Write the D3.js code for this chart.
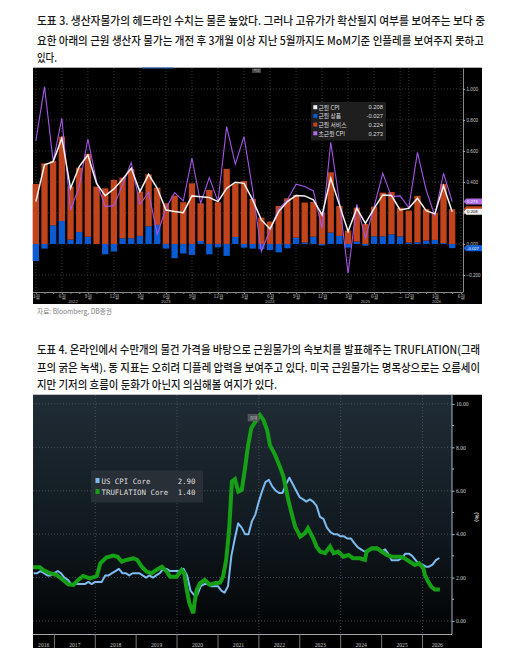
<!DOCTYPE html>
<html><head><meta charset="utf-8">
<script src="https://cdn.jsdelivr.net/npm/d3@7"></script>
<style>body{margin:0;background:#fff}svg{display:block}</style>
</head><body>
<svg id="c" width="512" height="648"></svg>
<script>
// ---------------- DATA: chart 1 (core CPI MoM contributions) ----------------
const months1 = ["2022-03","2022-04","2022-05","2022-06","2022-07","2022-08","2022-09","2022-10","2022-11","2022-12",
"2023-01","2023-02","2023-03","2023-04","2023-05","2023-06","2023-07","2023-08","2023-09","2023-10","2023-11","2023-12",
"2024-01","2024-02","2024-03","2024-04","2024-05","2024-06","2024-07","2024-08","2024-09","2024-10","2024-11","2024-12",
"2025-01","2025-02","2025-03","2025-04","2025-05","2025-06","2025-07","2025-08","2025-09","2025-12",
"2026-01","2026-02","2026-03","2026-04","2026-05"];
const coreGoods = [-0.110,-0.030,0.120,0.148,0.028,0.077,0.047,0.000,-0.067,-0.049,
0.037,0.037,0.052,0.114,0.123,-0.030,-0.092,-0.062,-0.071,0.019,-0.067,-0.022,
-0.077,0.045,-0.024,-0.030,-0.034,-0.039,-0.054,-0.028,0.041,0.009,0.047,-0.009,
0.073,0.052,-0.024,0.015,-0.011,0.049,0.049,0.062,0.049,0.009,
0.011,0.022,0.026,0.006,-0.027];
const coreServices = [0.387,0.520,0.415,0.544,0.342,0.415,0.534,0.370,0.359,0.413,
0.391,0.447,0.286,0.335,0.240,0.262,0.312,0.269,0.391,0.243,0.348,0.269,
0.484,0.346,0.406,0.290,0.170,0.144,0.245,0.295,0.275,0.258,0.224,0.202,
0.389,0.193,0.086,0.219,0.129,0.192,0.282,0.273,0.185,0.206,
0.299,0.204,0.176,0.381,0.224];
const coreCPI = [0.273,0.510,0.531,0.682,0.359,0.499,0.574,0.391,0.312,0.355,
0.417,0.488,0.338,0.449,0.359,0.219,0.209,0.202,0.310,0.305,0.299,0.273,
0.359,0.398,0.391,0.284,0.155,0.097,0.209,0.273,0.312,0.310,0.284,0.187,
0.424,0.252,0.080,0.230,0.133,0.230,0.316,0.312,0.219,0.230,
0.295,0.215,0.194,0.376,0.208];
const supercoreCPI = [0.665,1.015,0.531,0.811,0.219,0.370,0.677,0.402,0.241,0.247,
0.381,0.525,0.256,0.333,0.062,0.230,0.331,0.277,0.553,0.262,0.428,0.273,
0.757,0.514,0.692,0.348,-0.049,0.090,0.226,0.284,0.385,0.370,0.342,0.101,
0.656,0.273,-0.189,0.256,0.037,0.241,0.456,0.305,0.310,0.234,
0.591,0.348,0.183,0.456,0.273];
const monthTickIdx = [0,3,6,9,12,15,18,21,24,27,30,33,36,39,42,43,46,49];
const monthTickLabels = ["3월","6월","9월","12월","3월","6월","9월","12월","3월","6월","9월","12월","3월","6월","...","12월","3월","6월"];
const yearLabels1 = ["2022","2023","2024","2025","2026"];
const yearLabelIdx1 = [4.3,15,27,38,46.2];
const y1Ticks = [1.0,0.8,0.6,0.4,0.2,0.0,-0.2];
const legend1Names = ["근원 CPI","근원 상품","근원 서비스","초근원 CPI"];

// ---------------- DATA: chart 2 (US CPI Core vs Truflation Core, YoY %) ----------------
const cpiCoreStart = "2016-06";
const cpiCore = [2.2,2.2,2.3,2.2,2.1,2.1,2.2,
2.3,2.2,2.0,1.9,1.7,1.7,1.7,1.7,1.7,1.8,1.7,1.8,
1.8,1.8,2.1,2.1,2.2,2.3,2.4,2.2,2.2,2.1,2.2,2.2,
2.2,2.1,2.0,2.1,2.0,2.1,2.2,2.4,2.4,2.3,2.3,2.3,
2.3,2.4,2.1,1.4,1.2,1.2,1.6,1.7,1.7,1.6,1.6,1.6,
1.4,1.3,1.6,3.0,3.8,4.5,4.3,4.0,4.0,4.6,4.9,5.5,
6.0,6.4,6.5,6.2,6.0,5.9,5.9,6.3,6.6,6.3,6.0,5.7,
5.6,5.5,5.6,5.5,5.3,4.8,4.7,4.3,4.1,4.0,4.0,3.9,
3.9,3.8,3.8,3.6,3.4,3.3,3.2,3.2,3.3,3.3,3.3,3.2,
3.3,3.1,2.8,2.8,2.8,2.9,3.1,3.1,3.0,2.8,2.6,2.6,
2.5,2.5,2.6,2.8,2.9];
const trufDates = ["2016-06-24","2016-08-25","2016-09-24","2016-11-21","2017-01-20","2017-03-20","2017-05-05","2017-06-20","2017-08-01","2017-09-15","2017-11-15",
"2018-01-15","2018-02-15","2018-04-10","2018-06-10","2018-07-20","2018-08-25","2018-10-05","2018-12-05",
"2019-01-10","2019-02-20","2019-04-05","2019-05-20","2019-07-01","2019-08-20","2019-10-01","2019-11-01","2019-12-28",
"2020-02-10","2020-03-05","2020-03-28","2020-04-20","2020-05-25","2020-06-05","2020-06-25","2020-07-25","2020-09-05","2020-10-20","2020-12-01",
"2021-01-20","2021-02-15","2021-03-15","2021-04-10","2021-05-05","2021-06-01","2021-07-01","2021-08-01","2021-08-28","2021-09-25","2021-10-25","2021-12-10",
"2022-01-10","2022-02-10","2022-03-15","2022-04-10","2022-05-25","2022-07-08","2022-08-08","2022-09-20","2022-10-20","2022-11-20",
"2023-01-05","2023-02-15","2023-03-15","2023-05-01","2023-05-30","2023-07-01","2023-08-15","2023-09-28","2023-10-30","2023-12-10",
"2024-01-25","2024-03-10","2024-04-20","2024-06-20","2024-08-05","2024-08-20","2024-10-05","2024-11-20",
"2025-01-01","2025-02-15","2025-04-01","2025-06-15","2025-07-25","2025-09-10","2025-10-25","2025-12-01",
"2026-01-08","2026-01-22","2026-02-20","2026-03-20","2026-04-20","2026-06-05"];
const trufCore = [2.47,2.47,2.35,2.2,2.12,1.89,1.69,1.66,1.89,2.07,1.96,
2.07,2.66,2.92,3.01,2.96,2.73,2.81,2.89,
2.81,2.5,2.27,2.2,2.35,2.5,2.27,2.04,2.04,
2.35,2.2,1.43,0.82,0.35,0.82,1.43,1.74,1.89,1.66,1.74,
1.77,2.04,2.81,4.19,6.42,6.53,5.96,6.04,6.96,8.04,8.88,9.26,
9.49,9.26,8.8,8.1,7.65,7.1,6.65,5.58,4.96,4.35,
3.89,4.04,4.27,3.81,3.43,3.2,3.12,3.43,3.12,3.2,
2.96,3.04,2.89,2.89,2.81,3.2,3.35,3.35,
3.2,3.04,2.96,2.96,2.89,2.73,2.58,2.66,
2.43,2.12,1.81,1.58,1.45,1.45];
const y2Ticks = [0,2,4,6,8,10];
const y2Minor = [1,3,5,7,9];
const years2 = [2016,2017,2018,2019,2020,2021,2022,2023,2024,2025,2026];
const legend2Names = ["US CPI Core","TRUFLATION Core"];
const legend2Values = ["2.90","1.40"];

// ---------------- TEXT ----------------
const cap1 = ["도표 3. 생산자물가의 헤드라인 수치는 물론 높았다. 그러나 고유가가 확산될지 여부를 보여주는 보다 중",
"요한 아래의 근원 생산자 물가는 개전 후 3개월 이상 지난 5월까지도 MoM기준 인플레를 보여주지 못하고",
"있다."];
const cap2 = ["도표 4. 온라인에서 수만개의 물건 가격을 바탕으로 근원물가의 속보치를 발표해주는 TRUFLATION(그래",
"프의 굵은 녹색). 동 지표는 오히려 디플레 압력을 보여주고 있다. 미국 근원물가는 명목상으로는 오름세이",
"지만 기저의 흐름이 둔화가 아닌지 의심해볼 여지가 있다."];
const source1 = "자료: Bloomberg, DB증권";

const KR = "'Noto Sans CJK KR','Noto Sans',sans-serif";
const svg = d3.select("#c");

function caption(lines, ys, lens){
  lines.forEach((t,i)=>{
    svg.append("text").attr("x",37).attr("y",ys[i]).text(t)
      .attr("font-family",KR).attr("font-size",11).attr("font-weight",500).attr("fill","#161616")
      .attr("textLength",lens[i]).attr("lengthAdjust","spacingAndGlyphs");
  });
}
caption(cap1,[24.5,44.5,61.5],[448,447,20]);
caption(cap2,[354,372,389],[443,443,240]);

// ================= CHART 1 =================
const g1 = svg.append("g");
g1.append("rect").attr("x",33).attr("y",67).attr("width",449).attr("height",237).attr("fill","#000");
g1.append("line").attr("x1",33).attr("x2",482).attr("y1",67.5).attr("y2",67.5).attr("stroke","#b0b0b0");
g1.append("line").attr("x1",142).attr("x2",173).attr("y1",68).attr("y2",68).attr("stroke","#2a6cc8").attr("stroke-width",1);

const x1 = d3.scaleBand().domain(months1).range([31.5,456.5]).paddingInner(0.27).paddingOuter(0.135);
const xi = d3.scaleLinear().domain([0,months1.length-1])
  .range([x1(months1[0])+x1.bandwidth()/2, x1(months1[months1.length-1])+x1.bandwidth()/2]);
const y1 = d3.scaleLinear().domain([-0.31,1.135]).range([292,68]);

// grid
g1.selectAll(null).data(y1Ticks).join("line")
  .attr("x1",33).attr("x2",463).attr("y1",d=>y1(d)).attr("y2",d=>y1(d))
  .attr("stroke","#4a4a4a").attr("stroke-width",0.7).attr("stroke-dasharray","1,2");
g1.selectAll(null).data(monthTickIdx).join("line")
  .attr("x1",d=>xi(d)).attr("x2",d=>xi(d)).attr("y1",68).attr("y2",292)
  .attr("stroke","#4a4a4a").attr("stroke-width",0.7).attr("stroke-dasharray","1,2");

// stacked bars
const rows = months1.map((m,i)=>({m, goods:coreGoods[i], services:coreServices[i]}));
const stacked = d3.stack().keys(["goods","services"]).offset(d3.stackOffsetDiverging)(rows);
const col1 = {goods:"#0b5bd3", services:"#c1441c"};
stacked.forEach(layer=>{
  g1.append("g").selectAll("rect").data(layer).join("rect")
    .attr("x",d=>x1(d.data.m)).attr("width",x1.bandwidth())
    .attr("y",d=>y1(Math.max(d[0],d[1]))).attr("height",d=>Math.abs(y1(d[0])-y1(d[1])))
    .attr("fill",col1[layer.key]);
});

// lines
const line1 = d3.line().x((d,i)=>xi(i)).y(d=>y1(d));
g1.append("path").attr("d",line1(supercoreCPI)).attr("fill","none").attr("stroke","#a356e6").attr("stroke-width",1.1);
g1.append("path").attr("d",line1(coreCPI)).attr("fill","none").attr("stroke","#f2f2f2").attr("stroke-width",1.5);

// x axis
const ax1 = g1.append("g").attr("transform","translate(0,292)")
  .call(d3.axisBottom(xi).tickValues(d3.range(0,50)).tickSize(2).tickSizeOuter(0).tickPadding(0.8)
    .tickFormat(d=>{const k=monthTickIdx.indexOf(d);return k>=0?monthTickLabels[k]:"";}));
ax1.select(".domain").attr("d","M33,0.5H463").attr("stroke","#8a8a8a");
ax1.selectAll(".tick line").attr("stroke","#8a8a8a");
ax1.selectAll("text").attr("fill","#c8c8c8").attr("font-size",4.8).attr("font-family",KR);
g1.selectAll(null).data(yearLabels1).join("text")
  .attr("x",(d,i)=>xi(yearLabelIdx1[i])).attr("y",303).attr("text-anchor","middle")
  .attr("font-size",4.2).attr("font-family","Liberation Sans, sans-serif").attr("fill","#b8b8b8").text(d=>d);

// right axis
const ay1 = g1.append("g").attr("transform","translate(463,0)")
  .call(d3.axisRight(y1).tickValues(y1Ticks).tickFormat(d3.format(".3f")).tickSize(2).tickSizeOuter(0).tickPadding(1.5));
ay1.select(".domain").attr("stroke","#8a8a8a");
ay1.selectAll(".tick line").attr("stroke","#aaa");
ay1.selectAll("text").attr("fill","#c8c8c8").attr("font-size",4.6).attr("font-family","Liberation Sans, sans-serif");
// tick label hidden behind the tags in the reference
ay1.selectAll(".tick").filter(d=>d===0.2).select("text").remove();

// tags (services tag is hidden behind the core-CPI tag in the reference)
const last = months1.length-1;
const tags1 = [
  {v:coreServices[last], c:"#c1441c", t:"", tc:"#fff"},
  {v:supercoreCPI[last], c:"#b06ae8", t:d3.format(".3f")(supercoreCPI[last]), tc:"#fff"},
  {v:coreCPI[last], c:"#f0f0f0", t:d3.format(".3f")(coreCPI[last]), tc:"#000"},
  {v:coreGoods[last], c:"#1060d8", t:"-0.027", tc:"#fff"}];
tags1.forEach(tg=>{
  const yy=y1(tg.v);
  g1.append("path").attr("d",`M463.5,${yy}L466.5,${yy-3}H482V${yy+3}H466.5Z`).attr("fill",tg.c);
  if(tg.t) g1.append("text").attr("x",467).attr("y",yy+1.5).text(tg.t).attr("font-size",4.2)
    .attr("font-family","Liberation Sans, sans-serif").attr("fill",tg.tc);
});

// legend 1
const lg1 = g1.append("g");
lg1.append("rect").attr("x",311).attr("y",102).attr("width",75).attr("height",38.5).attr("fill","#1e1e1e");
const l1cols = ["#f2f2f2","#0b5bd3","#c1441c","#b06ae8"];
const l1vals = [coreCPI[last],coreGoods[last],coreServices[last],supercoreCPI[last]];
legend1Names.forEach((n,i)=>{
  const yy = 107.4 + i*8.7;
  lg1.append("rect").attr("x",313.3).attr("y",yy-2.2).attr("width",4).attr("height",4).attr("fill",l1cols[i]);
  lg1.append("text").attr("x",318.5).attr("y",yy+2.1).text(n).attr("font-family",KR).attr("font-size",5.8).attr("fill","#dcdcdc");
  lg1.append("text").attr("x",383).attr("y",yy+2.0).attr("text-anchor","end").text(d3.format(".3f")(l1vals[i]).replace("−","-"))
    .attr("font-family","Liberation Sans, sans-serif").attr("font-size",5.8).attr("fill","#dcdcdc");
});
// max marker
g1.append("rect").attr("x",252).attr("y",68.5).attr("width",9).attr("height",4.5).attr("fill","#444");
g1.append("text").attr("x",256.5).attr("y",72).attr("text-anchor","middle").text("최대").attr("font-size",3.4).attr("font-family",KR).attr("fill","#bbb");

// source
svg.append("text").attr("x",37).attr("y",314).text(source1).attr("font-family",KR).attr("font-size",7)
  .attr("fill","#808080").attr("textLength",75).attr("lengthAdjust","spacingAndGlyphs");

// ================= CHART 2 =================
const g2 = svg.append("g");
const defs = svg.append("defs");
const gr = defs.append("linearGradient").attr("id","bg2").attr("x1",0).attr("x2",0).attr("y1",0).attr("y2",1);
gr.append("stop").attr("offset","0%").attr("stop-color","#202c36");
gr.append("stop").attr("offset","55%").attr("stop-color","#111a20");
gr.append("stop").attr("offset","100%").attr("stop-color","#020304");
g2.append("rect").attr("x",33).attr("y",395).attr("width",449).attr("height",253).attr("fill","#000");
g2.append("rect").attr("x",33).attr("y",395).attr("width",419).attr("height",239).attr("fill","url(#bg2)");
g2.append("line").attr("x1",33).attr("x2",482).attr("y1",394.5).attr("y2",394.5).attr("stroke","#c0c0c0");

const x2 = d3.scaleTime().domain([new Date(2016,5,24), new Date(2026,8,21)]).range([33,452]);
const y2 = d3.scaleLinear().domain([-0.6,10.41]).range([634,395]);

// grid
g2.selectAll(null).data(y2Ticks).join("line")
  .attr("x1",33).attr("x2",452).attr("y1",d=>y2(d)).attr("y2",d=>y2(d))
  .attr("stroke","#56616b").attr("stroke-width",0.7).attr("stroke-dasharray","1,2");
g2.selectAll(null).data([2018,2020,2022,2024,2026]).join("line")
  .attr("x1",d=>x2(new Date(d,0,1))).attr("x2",d=>x2(new Date(d,0,1))).attr("y1",395).attr("y2",634)
  .attr("stroke","#56616b").attr("stroke-width",0.7).attr("stroke-dasharray","1,2");

// series
const parseM = d3.timeParse("%Y-%m");
const cpiDates = d3.timeMonth.range(parseM(cpiCoreStart), d3.timeMonth.offset(parseM(cpiCoreStart), cpiCore.length))
  .map(d=>d3.timeDay.offset(d3.timeMonth.offset(d,1),-1));
const parseD = d3.timeParse("%Y-%m-%d");
const line2 = d3.line().x(d=>x2(d[0])).y(d=>y2(d[1]));
g2.append("path").attr("d",line2(cpiDates.map((d,i)=>[d,cpiCore[i]])))
  .attr("fill","none").attr("stroke","#7cbcf0").attr("stroke-width",2).attr("stroke-linejoin","round");
g2.append("path").attr("d",line2(trufDates.map((d,i)=>[parseD(d),trufCore[i]])))
  .attr("fill","none").attr("stroke","#16a016").attr("stroke-width",4).attr("stroke-linejoin","miter");

// right axis
const ay2 = g2.append("g").attr("transform","translate(452,0)")
  .call(d3.axisRight(y2).tickValues(y2Ticks).tickFormat(d3.format(".2f")).tickSize(2.5).tickSizeOuter(0).tickPadding(1.5));
ay2.select(".domain").attr("d","M0,395V634").attr("stroke","#9fb4c4");
ay2.selectAll(".tick line").attr("stroke","#9fb4c4");
ay2.selectAll("text").attr("fill","#c8c8c8").attr("font-size",5.6).attr("font-family","Liberation Serif, serif");
g2.selectAll(null).data(y2Minor).join("line").attr("x1",452).attr("x2",454).attr("y1",d=>y2(d)).attr("y2",d=>y2(d)).attr("stroke","#9fb4c4");
g2.append("text").attr("transform","translate(475,517) rotate(90)").attr("text-anchor","middle").text("(%)")
  .attr("font-size",6).attr("font-family","Liberation Sans, sans-serif").attr("font-weight","bold").attr("fill","#c8c8c8");

// bottom axis
g2.append("line").attr("x1",33).attr("x2",452).attr("y1",634.5).attr("y2",634.5).attr("stroke","#a8a8a8");
g2.selectAll(null).data(years2.slice(1)).join("line")
  .attr("x1",d=>x2(new Date(d,0,1))).attr("x2",d=>x2(new Date(d,0,1))).attr("y1",634.5).attr("y2",648)
  .attr("stroke","#777");
g2.selectAll(null).data(years2).join("text")
  .attr("x",d=>(Math.max(33,x2(new Date(d,0,1)))+Math.min(452,x2(new Date(d+1,0,1))))/2)
  .attr("y",646.5).attr("text-anchor","middle").text(d=>d)
  .attr("font-size",5.6).attr("font-family","Liberation Serif, serif").attr("fill","#c8c8c8");

// legend 2
const lg2 = g2.append("g");
lg2.append("rect").attr("x",91).attr("y",470.5).attr("width",112).attr("height",32).attr("fill","#2a3138").attr("opacity",0.92);
const l2cols = ["#7cbcf0","#16a016"];
legend2Names.forEach((n,i)=>{
  const yy = 481 + i*11;
  lg2.append("rect").attr("x",95.5).attr("y",yy-3).attr("width",4).attr("height",5).attr("fill",l2cols[i]);
  lg2.append("text").attr("x",101.5).attr("y",yy+2.6).text(n).attr("font-family","DejaVu Sans Mono, monospace").attr("font-size",7.4).attr("fill","#dedede");
  lg2.append("text").attr("x",195.5).attr("y",yy+2.6).attr("text-anchor","end").text(legend2Values[i]).attr("font-family","DejaVu Sans Mono, monospace").attr("font-size",7.4).attr("fill","#dedede");
});
// max marker
g2.append("rect").attr("x",248).attr("y",414.5).attr("width",11).attr("height",6.5).attr("fill","#4a4f54").attr("stroke","#777").attr("stroke-width",0.4);
g2.append("text").attr("x",253.5).attr("y",419.5).attr("text-anchor","middle").text("최대").attr("font-size",4).attr("font-family",KR).attr("fill","#ccc");
</script>
</body></html>
